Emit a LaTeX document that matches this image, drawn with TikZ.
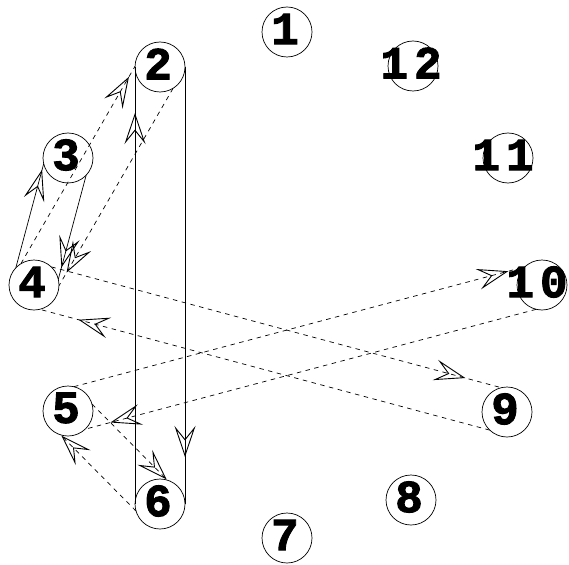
\documentclass[tikz,border=0pt]{standalone}
\usepackage{fontspec}
\newfontfamily\numfont{Liberation Mono}[BoldFeatures={FakeBold=2}]
\usetikzlibrary{calc,arrows.meta,decorations.markings}
\newcommand{\lnk}[5]{\draw[#1] ($(#2)!#4!(#3)!#5!90:(#3)$) -- ($(#3)!#4!(#2)!#5!-90:(#2)$);}
\begin{document}
\begin{tikzpicture}[x=1pt,y=-1pt,
  cnode/.style={circle,draw,line width=0.7pt,minimum size=50pt,inner sep=0pt},
  num/.style={label={[font=\numfont\bfseries\fontsize{46}{46}\selectfont,inner sep=0pt,xshift=-2pt,yshift=3pt]center:#1}},
  numb/.style={label={[font=\numfont\bfseries\fontsize{46}{46}\selectfont,inner sep=0pt,xshift=-5pt,yshift=3pt]center:#1}},
  link/.style={line width=0.7pt},
  dlink/.style={line width=0.7pt,dash pattern=on 4.5pt off 4.5pt},
  headat/.style={postaction={decorate,decoration={markings,mark=at position #1 with {\pgfsetdash{}{0pt}\arrow{Stealth[open,length=31pt,width=21pt,inset=13pt,line width=0.9pt]}}}}}
]
\useasboundingbox (0,0) rectangle (569,564);
\node[cnode,num=1]  (n1)  at (287,32)  {};
\node[cnode,num=2]  (n2)  at (160,67)  {};
\node[cnode,num=3]  (n3)  at (68,158)  {};
\node[cnode,num=4]  (n4)  at (34,285)  {};
\node[cnode,num=5]  (n5)  at (68,411)  {};
\node[cnode,num=6]  (n6)  at (160,504) {};
\node[cnode,num=7]  (n7)  at (287,538) {};
\node[cnode,num=8]  (n8)  at (411,500) {};
\node[cnode,num=9]  (n9)  at (507,412) {};
\node[cnode,numb={1\kern6pt0}] (n10) at (542,285) {};
\node[cnode,numb={1\kern6pt1}] (n11) at (508,158) {};
\node[cnode,num={1\kern6pt2}] (n12) at (413,66)  {};
\lnk{link,headat=-6pt}{n4}{n3}{12pt}{22pt}
\lnk{link,headat=-12pt}{n3}{n4}{12pt}{22pt}
\lnk{link,headat=-47pt}{n2}{n6}{0pt}{25pt}
\lnk{link,headat=-46pt}{n6}{n2}{0pt}{25pt}
\lnk{dlink,headat=-12pt}{n4}{n2}{12pt}{22pt}
\lnk{dlink,headat=-15pt}{n2}{n4}{12pt}{22pt}
\lnk{dlink,headat=-37pt}{n4}{n9}{12pt}{22pt}
\lnk{dlink,headat=-40pt}{n9}{n4}{12pt}{22pt}
\lnk{dlink,headat=-17pt}{n5}{n10}{12pt}{22pt}
\lnk{dlink,headat=-26pt}{n10}{n5}{12pt}{22pt}
\lnk{dlink,headat=-0.5pt}{n5}{n6}{12pt}{22pt}
\lnk{dlink,headat=-0.5pt}{n6}{n5}{12pt}{22pt}
\end{tikzpicture}
\end{document}
